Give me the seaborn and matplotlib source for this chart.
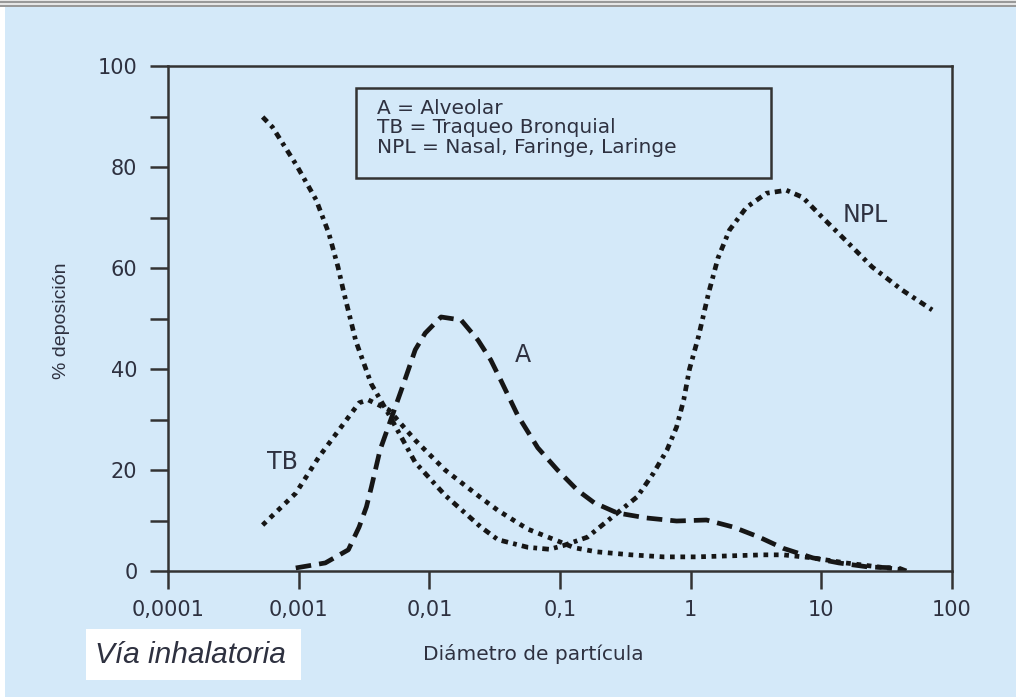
import numpy as np
import pandas as pd
import matplotlib
matplotlib.use("Agg")
import matplotlib.pyplot as plt
from matplotlib.patches import Rectangle
from matplotlib.lines import Line2D
from matplotlib.ticker import NullLocator
import seaborn as sns

# ---------------- data ----------------
npl_x = [5.3e-4, 6.3e-4, 9.6e-4, 1.36e-3, 1.7e-3, 2.0e-3, 2.2e-3, 2.74e-3, 3.6e-3,
         4.9e-3, 7.8e-3, 0.0132, 0.0248, 0.0335, 0.0566, 0.083, 0.105, 0.162, 0.26,
         0.39, 0.52, 0.66, 0.78, 0.885, 0.98, 1.15, 1.37, 1.62, 1.98, 2.67, 3.8,
         5.4, 7.2, 10.2, 15.3, 24.5, 41.7, 70.5]
npl_y = [89.9, 87.9, 80.4, 73.5, 66.9, 60.2, 55.5, 45.5, 37.0,
         31.0, 21.5, 15.0, 8.7, 6.2, 4.7, 4.3, 5.0, 6.7, 11.0,
         14.7, 19.4, 24.0, 28.5, 33.9, 40.0, 46.5, 55.0, 62.0, 67.5, 72.0, 74.8,
         75.4, 74.0, 70.0, 65.5, 60.2, 55.6, 51.7]

tb_x = [5.3e-4, 9.5e-4, 1.43e-3, 2.03e-3, 2.9e-3, 3.4e-3, 4.9e-3, 7.8e-3, 0.0132,
        0.0248, 0.0335, 0.0566, 0.095, 0.129, 0.19, 0.35, 0.62, 1.11, 2.0, 3.6,
        5.1, 8.6, 15.3, 27.4, 43.6]
tb_y = [9.1, 15.4, 22.6, 27.9, 33.3, 33.9, 31.9, 25.9, 20.0,
        14.5, 12.0, 8.3, 6.0, 4.6, 3.8, 3.2, 2.8, 2.8, 3.0, 3.2,
        3.2, 2.6, 1.6, 0.8, 0.2]

a_x = [9.5e-4, 1.6e-3, 2.4e-3, 2.9e-3, 3.3e-3, 3.6e-3, 4.2e-3, 6.1e-3, 6.9e-3,
       7.8e-3, 9.3e-3, 0.0123, 0.0175, 0.0236, 0.0295, 0.0355, 0.0475, 0.0676,
       0.0957, 0.136, 0.183, 0.274, 0.46, 0.78, 1.32, 2.12, 3.35, 5.1, 8.6,
       13.6, 22.9, 38.9, 44.7]
a_y = [0.6, 1.6, 4.2, 8.7, 12.7, 16.6, 24.0, 35.8, 39.8,
       43.8, 47.1, 50.3, 49.7, 45.7, 41.8, 37.6, 30.8, 24.4,
       20.0, 16.0, 13.5, 11.5, 10.5, 9.9, 10.1, 8.7, 6.7, 4.5, 2.6,
       1.6, 0.8, 0.6, 0.0]

x_ticks = [1e-4, 1e-3, 1e-2, 1e-1, 1, 10, 100]
x_tick_labels = ["0,0001", "0,001", "0,01", "0,1", "1", "10", "100"]
y_ticks = [0, 20, 40, 60, 80, 100]
y_minor_ticks = [10, 30, 50, 70, 90]

legend_lines = ["A = Alveolar", "TB = Traqueo Bronquial", "NPL = Nasal, Faringe, Laringe"]
curve_labels = [("NPL", 21.8, 70.5), ("A", 0.052, 42.8), ("TB", 7.5e-4, 21.6)]

# ---------------- style ----------------
BG = "#d4e9f9"
TXT = "#2e3140"
INK = "#161616"

sns.set_style("ticks")
plt.rcParams["font.family"] = ["DejaVu Sans"]

W, H = 1016, 697
fig = plt.figure(figsize=(W / 100, H / 100), dpi=100, facecolor=BG)

# axes placement (pixels -> figure fraction)
L, R, T, B = 168, 952, 66, 571
ax = fig.add_axes([L / W, 1 - B / H, (R - L) / W, (B - T) / H])
ax.set_facecolor(BG)

df_npl = pd.DataFrame({"x": npl_x, "y": npl_y})
df_tb = pd.DataFrame({"x": tb_x, "y": tb_y})
df_a = pd.DataFrame({"x": a_x, "y": a_y})

LW = 3.4
sns.lineplot(data=df_npl, x="x", y="y", ax=ax, color=INK, linewidth=LW)
ax.lines[-1].set_linestyle((0, (1.4, 1.1, 0.8, 1.1)))
sns.lineplot(data=df_tb, x="x", y="y", ax=ax, color=INK, linewidth=LW)
ax.lines[-1].set_linestyle((0, (1.0, 1.2)))
sns.lineplot(data=df_a, x="x", y="y", ax=ax, color=INK, linewidth=LW)
ax.lines[-1].set_linestyle((0, (3.3, 1.7)))

ax.set_xscale("log")
ax.set_xlim(1e-4, 100)
ax.set_ylim(0, 100)
ax.set_xticks(x_ticks, x_tick_labels)
ax.xaxis.set_minor_locator(NullLocator())
ax.set_yticks(y_ticks)
ax.set_yticks(y_minor_ticks, minor=True)

for s in ax.spines.values():
    s.set_visible(True)
    s.set_linewidth(1.8)
    s.set_color("#333333")

ax.tick_params(axis="both", which="both", direction="out", length=13, width=1.8,
               color="#333333", labelcolor=TXT, labelsize=15)
ax.tick_params(axis="x", pad=8)
ax.tick_params(axis="y", pad=9)
ax.tick_params(top=False, right=False)

ax.set_xlabel("Diámetro de partícula", fontsize=14.5, color=TXT)
ax.xaxis.set_label_coords(0.466, -0.145)
ax.set_ylabel("% deposición", fontsize=14, color=TXT,
              fontfamily=["Liberation Sans", "DejaVu Sans"])
ax.yaxis.set_label_coords(-0.125, 0.495)

# curve labels
for name, xx, yy in curve_labels:
    ax.text(xx, yy, name, fontsize=17, color=TXT, ha="center", va="center")

# legend-like box
ax.add_patch(Rectangle((0.240, 0.778), 0.529, 0.178, transform=ax.transAxes,
                       facecolor="none", edgecolor="#333333", linewidth=1.8, zorder=5))
for i, line in enumerate(legend_lines):
    ax.text(0.267, 0.916 - i * 0.0385, line, transform=ax.transAxes, fontsize=14.5,
            color=TXT, ha="left", va="center", zorder=6)

# "Vía inhalatoria" white box
fig.patches.append(Rectangle((86 / W, 1 - 680 / H), 215 / W, 51 / H,
                             transform=fig.transFigure, facecolor="white",
                             edgecolor="none", zorder=1))
fig.text(95 / W, 1 - 655 / H, "Vía inhalatoria", fontsize=21.5, style="italic",
         color=TXT, ha="left", va="center",
         fontfamily=["Liberation Sans", "DejaVu Sans"], zorder=2)

# page edges: white strip at left, grey rules at top
fig.patches.append(Rectangle((0, 0), 5 / W, 1, transform=fig.transFigure,
                             facecolor="white", edgecolor="none", zorder=0))
fig.patches.append(Rectangle((0, 1 - 7 / H), 1, 7 / H, transform=fig.transFigure,
                             facecolor="#e6e6e6", edgecolor="none", zorder=0))
fig.lines.append(Line2D([0, 1], [1 - 1.5 / H, 1 - 1.5 / H], transform=fig.transFigure,
                        color="#8a8a8a", linewidth=1.2))
fig.lines.append(Line2D([0, 1], [1 - 5.5 / H, 1 - 5.5 / H], transform=fig.transFigure,
                        color="#8a8a8a", linewidth=1.2))

fig.savefig("out.png", dpi=100, facecolor=BG)
